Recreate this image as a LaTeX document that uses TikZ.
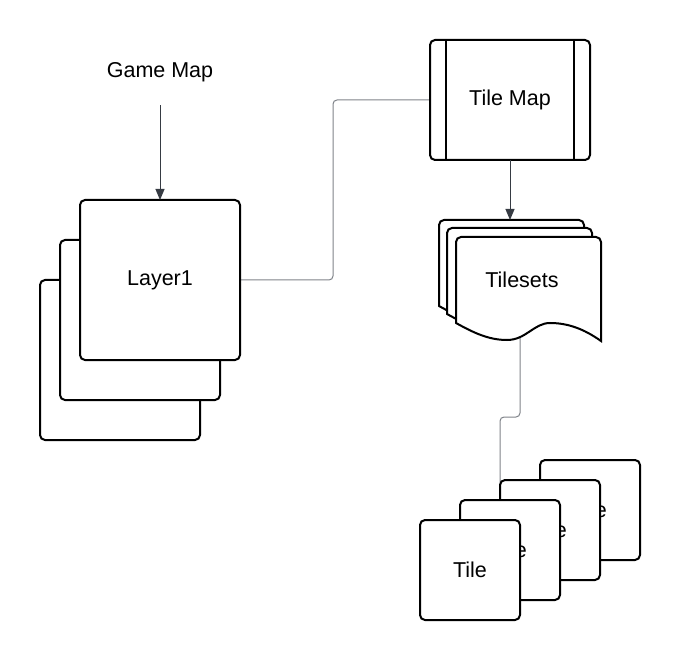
\documentclass[tikz,border=0pt]{standalone}
\usepackage{fontspec}
\setmainfont{Liberation Sans}
\usetikzlibrary{arrows.meta, backgrounds}
\definecolor{linkgray}{HTML}{7F8389}
\definecolor{tipgray}{HTML}{363B43}
\tikzstyle{title} = [text centered, font=\fontsize{21.5}{25}\selectfont]
\tikzstyle{card} = [rectangle, rounded corners=5pt, minimum width=160pt, minimum height=160pt, outer sep=0pt, text centered, draw=black, line width=2pt, fill=white, font=\fontsize{21.5}{25}\selectfont]
\tikzstyle{tile_card} = [card, minimum width=100pt, minimum height=100pt]
\tikzstyle{arrow} = [draw=tipgray, line width=1pt, -{Triangle[length=11pt,width=9pt]}]
\tikzstyle{link} = [draw=linkgray, line width=1pt, rounded corners=4pt]
% one sheet of the tileset stack, #1,#2 = top left corner
\newcommand{\docsheet}[2]{%
  \draw [line width=2pt, fill=white, shift={(#1,#2)}] (145,40) -- (145,104)
    .. controls (128,92) and (112,86) .. (94,86)
    .. controls (78,86) and (70,103) .. (51,103)
    .. controls (33,103) and (18,96) .. (0,86)
    [rounded corners=5pt] -- (0,0) -- (145,0) -- cycle;}

\begin{document}
\begin{tikzpicture}[x=1pt, y=-1pt]
	\useasboundingbox (0,0) rectangle (680,660);

	\node (map) [title] at (160,72) {Game Map};
	\node (layer3) [card] at (120,360) {};
	\node (layer2) [card] at (140,320) {};
	\node (layer1) [card] at (160,280) {Layer1};

	\node (tilemap) [card, minimum height=120pt] at (510,100) {Tile Map};
	\draw [line width=2pt] ([xshift=16pt]tilemap.north west) -- ([xshift=16pt]tilemap.south west);
	\draw [line width=2pt] ([xshift=-16pt]tilemap.north east) -- ([xshift=-16pt]tilemap.south east);

	\docsheet{439}{220}
	\docsheet{447}{228}
	\docsheet{456}{237}
	\node (tilesets) [title] at (522,280) {Tilesets};
	\coordinate (tilesets_top) at (510,220);
	\coordinate (tilesets_foot) at (520,338);

	\node (tile4) [tile_card] at (590,510) {Tile};
	\node (tile3) [tile_card] at (550,530) {Tile};
	\node (tile2) [tile_card] at (510,550) {Tile};
	\node (tile1) [tile_card] at (470,570) {Tile};

	\draw [arrow] ([yshift=-20pt]map.south) -- (layer1.north);
	\draw [arrow] (tilemap.south) -- (tilesets_top);

	\begin{scope}[on background layer]
		\draw [link] (layer1.east) -- ++(93,0) |- (tilemap.west);
		\draw [link] (tilesets_foot) -- (520,417) -- (500,417) -- (tile3.south west);
	\end{scope}
\end{tikzpicture}
\end{document}
